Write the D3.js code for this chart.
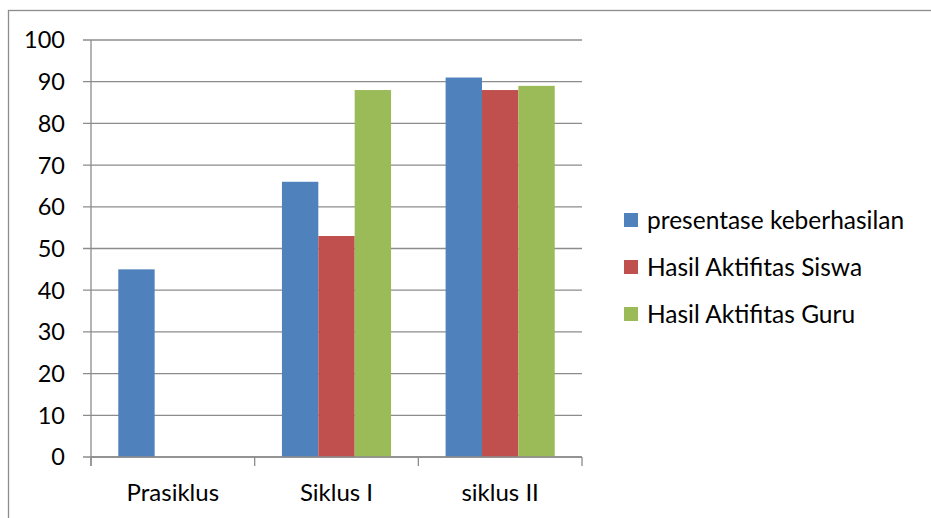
<!DOCTYPE html>
<html>
<head>
<meta charset="utf-8">
<script src="https://cdn.jsdelivr.net/npm/d3@7"></script>
<style>
  body { margin: 0; background: #fff; }
  svg { display: block; font-family: Lato, "Open Sans", sans-serif; }
</style>
</head>
<body>
<div id="chart"></div>
<script>
// data
const categories = ["Prasiklus", "Siklus I", "siklus II"];
const seriesNames = ["presentase keberhasilan", "Hasil Aktifitas Siswa", "Hasil Aktifitas Guru"];
const seriesColors = ["#4F81BD", "#C0504D", "#9BBB59"];
const presentase = [45, 66, 91];
const siswa = [0, 53, 88];
const guru = [0, 88, 89];
const yTicks = [0, 10, 20, 30, 40, 50, 60, 70, 80, 90, 100];

const seriesValues = [presentase, siswa, guru];

const W = 931, H = 518;
const plot = { left: 91, right: 582, top: 40, bottom: 457 };

const svg = d3.select("#chart").append("svg")
    .attr("width", W)
    .attr("height", H);

// outer chart border
svg.append("rect")
    .attr("x", 8.5).attr("y", 10.5)
    .attr("width", 940).attr("height", 530)
    .attr("fill", "none")
    .attr("stroke", "#8c8c8c")
    .attr("stroke-width", 1.3);

// scales
const x0 = d3.scaleBand()
    .domain(categories)
    .range([plot.left, plot.right])
    .paddingInner(0)
    .paddingOuter(0);

const x1 = d3.scaleBand()
    .domain(d3.range(seriesNames.length))
    .range([0, x0.bandwidth()])
    .paddingOuter(0.75)
    .paddingInner(0);

const y = d3.scaleLinear()
    .domain([0, 100])
    .range([plot.bottom, plot.top]);

// gridlines
svg.append("g")
    .selectAll("line")
    .data(yTicks)
    .enter()
    .append("line")
    .attr("x1", plot.left - 8)
    .attr("x2", plot.right)
    .attr("y1", d => y(d))
    .attr("y2", d => y(d))
    .attr("stroke", "#8c8c8c")
    .attr("stroke-width", 1.3);

// y axis labels
svg.append("g")
    .selectAll("text")
    .data(yTicks)
    .enter()
    .append("text")
    .attr("x", 65)
    .attr("y", d => y(d))
    .attr("dy", "0.36em")
    .attr("text-anchor", "end")
    .attr("font-size", 23.5)
    .attr("fill", "#000")
    .text(d => d);

// bars
const groups = svg.append("g")
    .selectAll("g")
    .data(categories)
    .enter()
    .append("g")
    .attr("transform", d => `translate(${x0(d)},0)`);

groups.selectAll("rect")
    .data((c, ci) => seriesValues.map((vals, si) => ({ si: si, value: vals[ci] })))
    .enter()
    .append("rect")
    .attr("x", d => x1(d.si))
    .attr("y", d => y(d.value))
    .attr("width", x1.bandwidth())
    .attr("height", d => plot.bottom - y(d.value))
    .attr("fill", d => seriesColors[d.si]);

// y axis line
svg.append("line")
    .attr("x1", plot.left).attr("x2", plot.left)
    .attr("y1", plot.top).attr("y2", plot.bottom + 9)
    .attr("stroke", "#8c8c8c")
    .attr("stroke-width", 1.3);

// x axis line + category ticks
svg.append("line")
    .attr("x1", plot.left).attr("x2", plot.right)
    .attr("y1", plot.bottom).attr("y2", plot.bottom)
    .attr("stroke", "#8c8c8c")
    .attr("stroke-width", 1.3);

const tickPos = categories.map(c => x0(c)).concat([plot.right]);
svg.append("g")
    .selectAll("line")
    .data(tickPos)
    .enter()
    .append("line")
    .attr("x1", d => d).attr("x2", d => d)
    .attr("y1", plot.bottom).attr("y2", plot.bottom + 9)
    .attr("stroke", "#8c8c8c")
    .attr("stroke-width", 1.3);

// category labels
svg.append("g")
    .selectAll("text")
    .data(categories)
    .enter()
    .append("text")
    .attr("x", d => x0(d) + x0.bandwidth() / 2)
    .attr("y", 501)
    .attr("text-anchor", "middle")
    .attr("font-size", 24)
    .attr("fill", "#000")
    .text(d => d);

// legend
const legend = svg.append("g")
    .selectAll("g")
    .data(seriesNames)
    .enter()
    .append("g")
    .attr("transform", (d, i) => `translate(624,${220 + i * 47})`);

legend.append("rect")
    .attr("x", 0).attr("y", -7)
    .attr("width", 14).attr("height", 14)
    .attr("fill", (d, i) => seriesColors[i]);

legend.append("text")
    .attr("x", 23)
    .attr("y", 0)
    .attr("dy", "0.36em")
    .attr("font-size", 24.5)
    .attr("fill", "#000")
    .text(d => d);
</script>
</body>
</html>
